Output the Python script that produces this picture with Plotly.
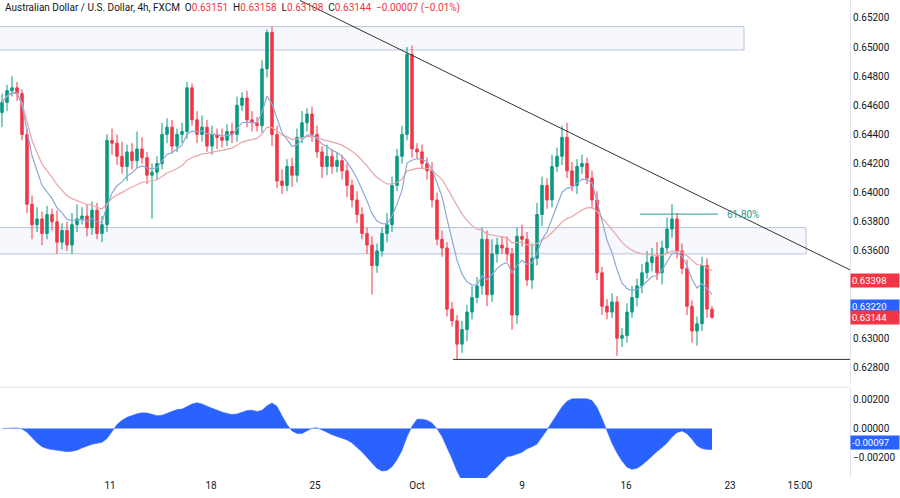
import pandas as pd
import plotly.graph_objects as go
from plotly.subplots import make_subplots

# 4h closes (one value per bar)
closes = [
    0.6462, 0.6470, 0.6472, 0.6468, 0.6440, 0.6392, 0.6378, 0.6382, 0.6372, 0.6385,
    0.6380, 0.6366, 0.6374, 0.6364, 0.6378, 0.6382, 0.6384, 0.6376, 0.6388, 0.6372,
    0.6378, 0.6436, 0.6434, 0.6425, 0.6418, 0.6428, 0.6422, 0.6430, 0.6424, 0.6412,
    0.6414, 0.6420, 0.6440, 0.6445, 0.6432, 0.6440, 0.6442, 0.6472, 0.6450, 0.6440,
    0.6445, 0.6432, 0.6440, 0.6438, 0.6436, 0.6442, 0.6440, 0.6460, 0.6465, 0.6450,
    0.6448, 0.6446, 0.6485, 0.6510, 0.6440, 0.6408, 0.6405, 0.6418, 0.6412, 0.6438,
    0.6448, 0.6454, 0.6440, 0.6428, 0.6418, 0.6425, 0.6418, 0.6422, 0.6415, 0.6405,
    0.6395, 0.6385, 0.6372, 0.6364, 0.6350, 0.6360, 0.6372, 0.6378, 0.6405, 0.6425,
    0.6440, 0.6495, 0.6430, 0.6428, 0.6420, 0.6415, 0.6395, 0.6368, 0.6362, 0.6320,
    0.6312, 0.6296, 0.6306, 0.6318, 0.6328, 0.6336, 0.6368, 0.6330, 0.6358, 0.6364,
    0.6362, 0.6358, 0.6316, 0.6370, 0.6368, 0.6340, 0.6355, 0.6385, 0.6405, 0.6395,
    0.6418, 0.6425, 0.6438, 0.6415, 0.6405, 0.6418, 0.6420, 0.6410, 0.6395, 0.6345,
    0.6322, 0.6318, 0.6325, 0.6300, 0.6302, 0.6318, 0.6328, 0.6336, 0.6345, 0.6352,
    0.6356, 0.6345, 0.6362, 0.6375, 0.6382, 0.6360, 0.6348, 0.6322, 0.6305, 0.6310,
    0.6350, 0.6320, 0.63144,
]
first_open = 0.6455
# wick sizes in pips above max(open, close) and below min(open, close)
wick_up = [
    6, 4, 8, 4, 3, 4, 6, 8, 5, 6, 4, 8, 5, 6, 8, 10, 6, 8, 6, 5,
    6, 4, 8, 6, 10, 5, 6, 12, 8, 4, 6, 5, 8, 6, 5, 4, 6, 4, 3, 6,
    8, 5, 6, 4, 6, 5, 6, 6, 4, 5, 6, 4, 6, 2, 4, 6, 8, 5, 6, 6,
    8, 4, 5, 6, 4, 8, 5, 6, 4, 5, 4, 6, 5, 4, 6, 5, 4, 8, 6, 5,
    6, 5, 6, 4, 5, 4, 6, 5, 6, 4, 5, 4, 6, 5, 8, 6, 8, 6, 10, 5,
    6, 8, 4, 6, 8, 5, 10, 8, 6, 5, 8, 6, 8, 10, 6, 5, 6, 4, 5, 6,
    4, 5, 6, 4, 5, 6, 8, 5, 6, 8, 6, 10, 5, 8, 10, 4, 5, 6, 4, 5,
    6, 5, 2,
]
wick_dn = [
    10, 6, 4, 5, 4, 6, 10, 5, 8, 4, 6, 8, 5, 4, 6, 5, 4, 6, 5, 4,
    6, 5, 8, 6, 5, 10, 6, 5, 4, 6, 30, 5, 4, 6, 5, 4, 6, 5, 4, 6,
    5, 4, 6, 8, 5, 4, 6, 5, 4, 5, 6, 4, 5, 6, 8, 5, 6, 4, 8, 5,
    4, 6, 5, 4, 8, 6, 5, 4, 6, 8, 5, 6, 4, 6, 20, 5, 4, 6, 5, 4,
    5, 4, 6, 5, 4, 6, 5, 4, 6, 5, 4, 11, 6, 8, 5, 4, 6, 8, 5, 6,
    4, 5, 10, 6, 5, 4, 6, 5, 8, 6, 5, 4, 6, 5, 4, 6, 5, 4, 6, 5,
    6, 5, 4, 12, 6, 5, 4, 6, 5, 4, 6, 5, 8, 4, 6, 5, 4, 6, 8, 10,
    5, 6, 1,
]

tick_pos = [21.6, 41.8, 62.6, 83.0, 104.0, 124.8, 145.6, 159.6]
tick_text = ["11", "18", "25", "Oct", "9", "16", "23", "15:00"]
# 0.632 / 0.634 are hidden behind the last-value labels in the original
price_ticks = [0.628, 0.630, 0.636, 0.638, 0.640, 0.642, 0.644,
               0.646, 0.648, 0.650, 0.652]
osc_ticks = [-0.002, 0.0, 0.002]

# zones / drawings (price levels)
top_zone = (0.6498, 0.6514)
mid_zone = (0.6358, 0.6376)
support = 0.62855
fib_level = 0.63853
trend_start = (59.6, 0.6532)
trend_end = (169.6, 0.6347)

GREEN = "#089981"
RED = "#f23645"

df = pd.DataFrame({"close": closes})
df["open"] = [first_open] + closes[:-1]
df["high"] = df[["open", "close"]].max(axis=1) + pd.Series(wick_up) * 0.0001
df["low"] = df[["open", "close"]].min(axis=1) - pd.Series(wick_dn) * 0.0001
df["fast"] = df["close"].ewm(span=9).mean()
df["slow"] = df["close"].ewm(span=30).mean()
df["osc"] = (df["fast"] - df["slow"]).rolling(3, min_periods=1).mean()
x = list(range(len(df)))

fig = make_subplots(rows=2, cols=1, shared_xaxes=True, row_heights=[0.81, 0.19],
                    vertical_spacing=0.01)

fig.add_trace(go.Candlestick(
    x=x, open=df["open"], high=df["high"], low=df["low"], close=df["close"],
    increasing=dict(line=dict(color=GREEN, width=1), fillcolor=GREEN),
    decreasing=dict(line=dict(color=RED, width=1), fillcolor=RED),
    whiskerwidth=0, showlegend=False), row=1, col=1)
fig.add_trace(go.Scatter(x=x, y=df["slow"], mode="lines",
                         line=dict(color="#e8a6a6", width=1.2), showlegend=False), row=1, col=1)
fig.add_trace(go.Scatter(x=x, y=df["fast"], mode="lines",
                         line=dict(color="#8fa8d8", width=1.2), showlegend=False), row=1, col=1)
fig.add_trace(go.Scatter(x=x, y=df["osc"], mode="lines", fill="tozeroy",
                         fillcolor="#2962ff", line=dict(color="#2962ff", width=0.5),
                         showlegend=False), row=2, col=1)

# zones
for lo, hi, x1 in [(top_zone[0], top_zone[1], 148.4), (mid_zone[0], mid_zone[1], 160.8)]:
    fig.add_shape(type="rect", x0=-1, x1=x1, y0=lo, y1=hi, xref="x", yref="y",
                  fillcolor="rgba(235,240,250,0.45)", line=dict(color="#b8c4d8", width=1),
                  layer="below")
fig.add_shape(type="line", x0=trend_start[0], y0=trend_start[1], x1=trend_end[0], y1=trend_end[1],
              xref="x", yref="y", line=dict(color="#333", width=1))
fig.add_shape(type="line", x0=90.2, x1=169.6, y0=support, y1=support, xref="x", yref="y",
              line=dict(color="#333", width=1))
fig.add_shape(type="line", x0=127.6, x1=143.2, y0=fib_level, y1=fib_level, xref="x", yref="y",
              line=dict(color="#2a9d8f", width=1))
fig.add_annotation(x=144.6, y=fib_level, text="61.80%", xref="x", yref="y", showarrow=False,
                   xanchor="left", font=dict(color="#2a9d8f", size=10))

# separator between panes
fig.add_shape(type="line", xref="paper", yref="paper", x0=0, x1=1, y0=0.19, y1=0.19,
              line=dict(color="#e0e3eb", width=1))

# price labels on right axis
for val, txt, col, yref in [(0.63398, "0.63398", RED, "y"), (0.63220, "0.63220", "#2962ff", "y"),
                            (0.63144, "0.63144", RED, "y"), (-0.00097, "-0.00097", "#2962ff", "y2")]:
    fig.add_annotation(x=1.0, xref="paper", y=val, yref=yref, text=txt, showarrow=False,
                       xanchor="left", bgcolor=col, font=dict(color="white", size=9.5),
                       borderpad=1, width=46, align="left")

title = ("Australian Dollar / U.S. Dollar, 4h, FXCM  "
         "O<span style='color:#f23645'>0.63151</span>  H<span style='color:#f23645'>0.63158</span>  "
         "L<span style='color:#f23645'>0.63108</span>  C<span style='color:#f23645'>0.63144</span>  "
         "<span style='color:#f23645'>\u22120.00007 (\u22120.01%)</span>")
fig.add_annotation(x=0.003, y=1.0, xref="paper", yref="paper", text=title, showarrow=False,
                   xanchor="left", yanchor="top", font=dict(color="#131722", size=10))

fig.update_xaxes(range=[-0.4, 169.6], showgrid=False, zeroline=False, rangeslider_visible=False,
                 tickvals=tick_pos, ticktext=tick_text, tickfont=dict(size=10, color="#131722"),
                 ticks="", showticklabels=False, row=1, col=1)
fig.update_xaxes(range=[-0.4, 169.6], showgrid=False, zeroline=False, rangeslider_visible=False,
                 tickvals=tick_pos, ticktext=tick_text, tickfont=dict(size=10, color="#131722"),
                 ticks="", row=2, col=1)
fig.update_yaxes(range=[0.62691, 0.65323], side="right", showgrid=False, zeroline=False,
                 tickvals=price_ticks, ticktext=[f"{v:.5f}" for v in price_ticks],
                 tickfont=dict(size=10, color="#131722"), automargin=False,
                 showline=True, linecolor="#e0e3eb", row=1, col=1)
fig.update_yaxes(range=[-0.0034, 0.00277], side="right", showgrid=False, zeroline=False,
                 tickvals=osc_ticks, ticktext=["\u22120.00200", "0.00000", "0.00200"],
                 tickfont=dict(size=10, color="#131722"), automargin=False,
                 showline=True, linecolor="#e0e3eb", row=2, col=1)

fig.update_layout(width=900, height=498, margin=dict(l=0, r=50, t=0, b=20, autoexpand=False),
                  plot_bgcolor="white", paper_bgcolor="white",
                  font=dict(family="Roboto, sans-serif"))

fig.write_html("out.html", config={"displayModeBar": False},
               post_script="document.body.style.margin='0';")
